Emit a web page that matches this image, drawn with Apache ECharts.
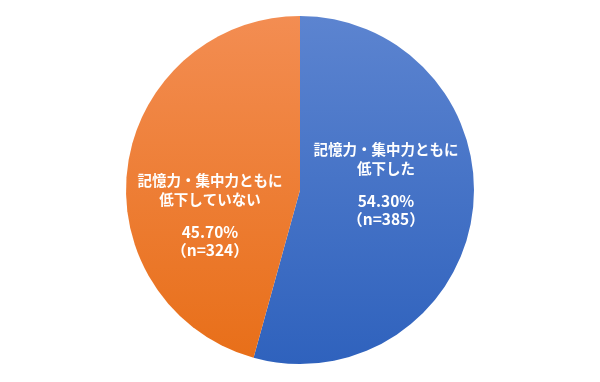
<!DOCTYPE html>
<html>
<head>
<meta charset="utf-8">
<script src="https://cdn.jsdelivr.net/npm/echarts@6/dist/echarts.min.js"></script>
<style>html,body{margin:0;padding:0;background:#fff;}#c{width:600px;height:382px;}</style>
</head>
<body>
<div id="c"></div>
<script>
var categories = ['記憶力・集中力ともに\n低下した', '記憶力・集中力ともに\n低下していない'];
var percents = [54.30, 45.70];
var counts = [385, 324];

var gradients = [
  ['#5c84d0', '#2f62bd'],
  ['#f38d52', '#e86f19']
];
var labelPos = [[386, 184], [210, 215]];

var chart = echarts.init(document.getElementById('c'), null, {renderer: 'canvas'});
var data = categories.map(function (name, i) {
  return {
    name: name,
    value: percents[i],
    n: counts[i],
    itemStyle: {
      color: {
        type: 'linear', x: 0, y: 0, x2: 0, y2: 1,
        colorStops: [{offset: 0, color: gradients[i][0]}, {offset: 1, color: gradients[i][1]}]
      }
    }
  };
});
chart.setOption({
  animation: false,
  series: [{
    type: 'pie',
    center: [300, 190],
    radius: 174,
    startAngle: 90,
    clockwise: true,
    silent: true,
    data: data,
    label: {
      show: true,
      position: 'inside',
      color: '#ffffff',
      lineHeight: 15,
      fontSize: 12,
      formatter: function (p) {
        var lines = p.name.split('\n').map(function (s) { return '{a|' + s + '}'; });
        return lines.join('\n') + '\n\n{b|' + p.value.toFixed(2) + '%}\n{b|（n=' + p.data.n + '）}';
      },
      rich: {
        a: {fontSize: 14.5, fontWeight: 'bold', fontFamily: '"Noto Sans CJK JP", sans-serif', lineHeight: 19, color: '#fff'},
        b: {fontSize: 15.5, fontWeight: 'bold', fontFamily: '"Noto Sans CJK JP", sans-serif', lineHeight: 18, color: '#fff'}
      }
    },
    labelLine: {show: false},
    labelLayout: function (params) {
      var p = labelPos[params.dataIndex];
      return {x: p[0], y: p[1], align: 'center', verticalAlign: 'middle'};
    }
  }]
});
</script>
</body>
</html>
